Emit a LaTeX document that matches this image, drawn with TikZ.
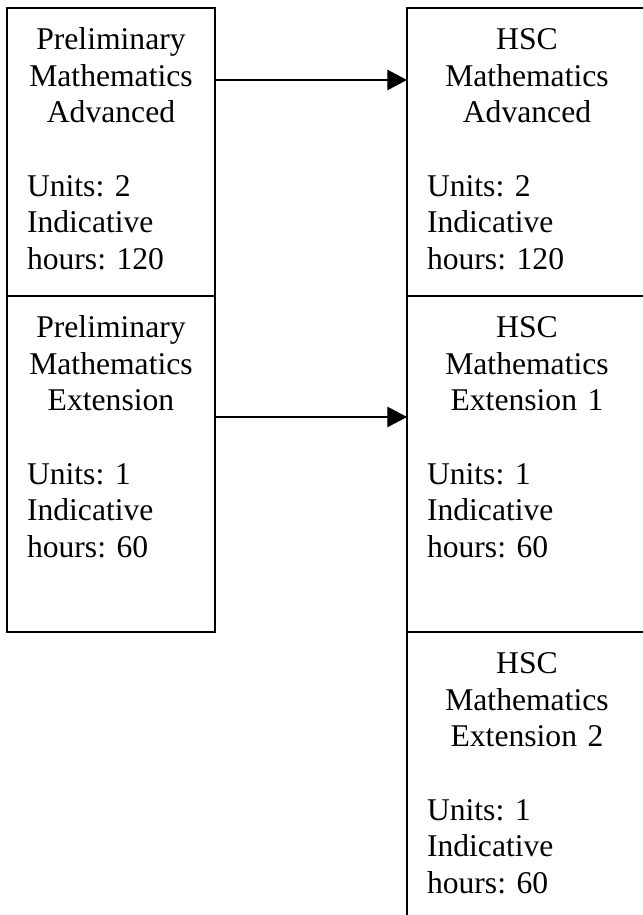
\documentclass[tikz,border=0pt]{standalone}
\usepackage{fontspec}
\setmainfont{Liberation Serif}
\usetikzlibrary{positioning,arrows.meta}
\frenchspacing

\tikzset{
  course/.style={draw, line width=1.4pt, outer sep=0pt, inner xsep=0.5cm, inner ysep=0pt,
    anchor=north west, text height=1.0375cm, font=\fontsize{22.5}{26.1}\selectfont},
  prelim/.style={course, text width=4.2cm},
  hsc/.style={course, text width=5cm},
  link/.style={-{Triangle[length=14pt,width=14.5pt]}, line width=0.95pt}
}
\newcommand{\coursetext}[2]{\centering #1\par\vspace{\baselineskip}\raggedright #2\par}

\begin{document}
\begin{tikzpicture}
    \useasboundingbox (0,0) rectangle (16.05,22.875);

    % preliminary courses
    \node[prelim, text depth=6.1625cm] (pa) at (0.175,22.675)
      {\coursetext{Preliminary\\Mathematics\\Advanced}{Units: 2\\Indicative\\hours: 120}};
    \node[prelim, text depth=7.3625cm, below=0pt of pa] (pe)
      {\coursetext{Preliminary\\Mathematics\\Extension}{Units: 1\\Indicative\\hours: 60}};

    % HSC courses
    \node[hsc, text depth=6.1625cm] (ha) at ([xshift=4.8cm]pa.north east)
      {\coursetext{HSC\\Mathematics\\Advanced}{Units: 2\\Indicative\\hours: 120}};
    \node[hsc, text depth=7.3625cm, below=0pt of ha] (hea)
      {\coursetext{HSC\\Mathematics\\Extension 1}{Units: 1\\Indicative\\hours: 60}};
    \node[hsc, text depth=6.2875cm, below=0pt of hea] (heb)
      {\coursetext{HSC\\Mathematics\\Extension 2}{Units: 1\\Indicative\\hours: 60}};

    % progression
    \draw[link] ([yshift=-1.8cm]pa.north east) -- ([yshift=-1.8cm]ha.north west);
    \draw[link] ([yshift=-3.025cm]pe.north east) -- ([yshift=-3.025cm]hea.north west);
\end{tikzpicture}
\end{document}
